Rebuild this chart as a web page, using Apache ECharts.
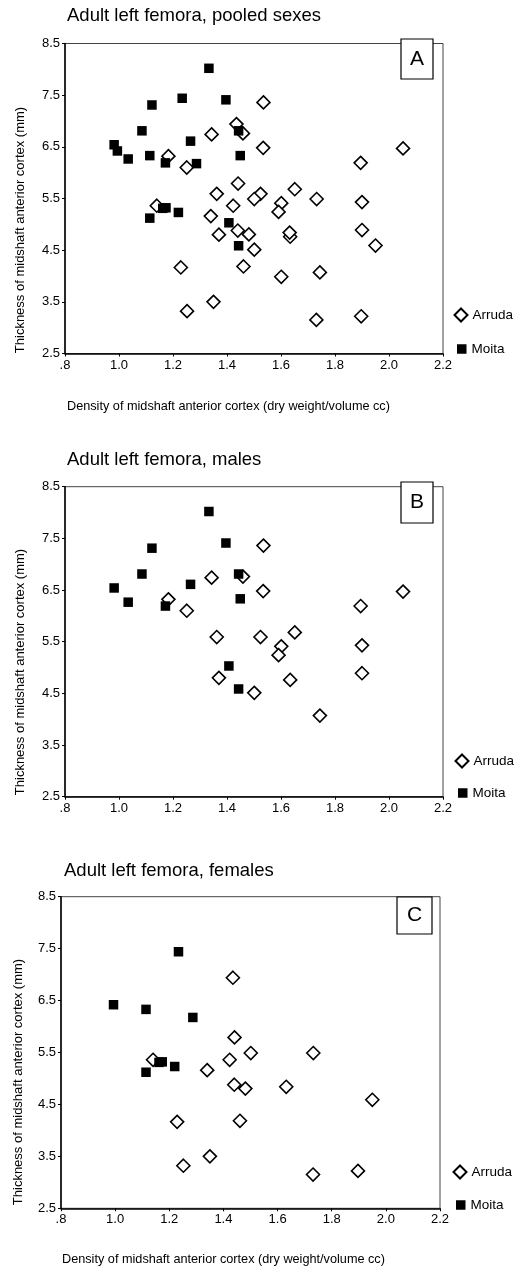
<!DOCTYPE html>
<html>
<head>
<meta charset="utf-8">
<script src="https://cdn.jsdelivr.net/npm/echarts@6/dist/echarts.min.js"></script>
<style>
html,body{margin:0;padding:0;background:#fff;}
#c{width:515px;height:1271px;}
</style>
</head>
<body>
<div id="c"></div>
<script>
// ---- data: [density, thickness] ----
var moitaMale = [[1.333,8.02],[1.396,7.41],[1.122,7.31],[1.085,6.81],[1.443,6.81],[1.265,6.61],[0.982,6.54],[1.034,6.265],[1.449,6.33],[1.172,6.19],[1.407,5.03],[1.443,4.585]];
var moitaFemale = [[1.234,7.44],[0.994,6.42],[1.114,6.33],[1.287,6.175],[1.162,5.31],[1.174,5.32],[1.220,5.23],[1.114,5.12]];
var arrudaMale = [[1.535,7.36],[1.343,6.74],[1.459,6.76],[1.534,6.48],[2.052,6.47],[1.183,6.32],[1.251,6.10],[1.895,6.19],[1.362,5.59],[1.524,5.59],[1.651,5.68],[1.601,5.41],[1.900,5.43],[1.591,5.24],[1.370,4.80],[1.634,4.76],[1.900,4.89],[1.501,4.51],[1.744,4.07]];
var arrudaFemale = [[1.435,6.94],[1.441,5.79],[1.501,5.49],[1.732,5.49],[1.140,5.36],[1.423,5.36],[1.340,5.16],[1.440,4.88],[1.481,4.805],[1.632,4.84],[1.950,4.59],[1.229,4.165],[1.461,4.185],[1.350,3.50],[1.252,3.32],[1.731,3.15],[1.897,3.22]];
var arrudaUnsexed = [[1.601,3.985]];
var panelTitles = ['Adult left femora, pooled sexes','Adult left femora, males','Adult left femora, females'];
var panelLetters = ['A','B','C'];
var xTicks = {min:0.8, max:2.2, interval:0.2};
var yTicks = {min:2.5, max:8.5, interval:1};
var xName = 'Density of midshaft anterior cortex (dry weight/volume cc)';
var yName = 'Thickness of midshaft anterior cortex (mm)';

var arrudaSets = [arrudaMale.concat(arrudaFemale, arrudaUnsexed), arrudaMale, arrudaFemale];
var moitaSets = [moitaMale.concat(moitaFemale), moitaMale, moitaFemale];

// ---- layout ----
var FONT = '"Liberation Sans", Arial, sans-serif';
var grids = [
  {left:65, top:43.5, width:378, height:310},
  {left:65, top:486.7, width:378, height:310},
  {left:61, top:896.7, width:379, height:311.6}
];
var titlePos = [{x:67,y:17},{x:67,y:461},{x:64,y:872}];
var boxPos = [{x:401,y:39,w:32,h:40},{x:401,y:482,w:32,h:41},{x:397,y:897,w:35,h:37}];
var yNamePos = [{x:20,y:230},{x:20,y:672},{x:18,y:1082}];
var xNamePos = [{x:67,y:406},null,{x:62,y:1259}];
var legPos = [{a:307.5,m:342,x:453.5},{a:753.5,m:786,x:454.5},{a:1164.5,m:1198,x:452.5}];

var option = {
  animation:false,
  backgroundColor:'#fff',
  textStyle:{fontFamily:FONT},
  grid:[], xAxis:[], yAxis:[], series:[], legend:[], graphic:[]
};

grids.forEach(function(g,i){
  option.grid.push({left:g.left, top:g.top, width:g.width, height:g.height,
    show:true, borderColor:'#444', borderWidth:1, backgroundColor:'transparent'});
  option.xAxis.push({type:'value', gridIndex:i, min:xTicks.min, max:xTicks.max, interval:xTicks.interval,
    axisLine:{onZero:false, lineStyle:{color:'#000', width:1.5}},
    axisTick:{show:true, length:3, lineStyle:{color:'#000'}},
    splitLine:{show:false},
    axisLabel:{color:'#000', fontSize:13, fontFamily:FONT, margin:5,
      formatter:function(v){ return Math.abs(v-0.8)<1e-9 ? '.8' : v.toFixed(1); }}
  });
  option.yAxis.push({type:'value', gridIndex:i, min:yTicks.min, max:yTicks.max, interval:yTicks.interval,
    axisLine:{onZero:false, lineStyle:{color:'#000', width:1.5}},
    axisTick:{show:true, length:3, lineStyle:{color:'#000'}},
    splitLine:{show:false},
    axisLabel:{color:'#000', fontSize:13, fontFamily:FONT, margin:5,
      formatter:function(v){ return v.toFixed(1); }}
  });
  option.series.push({type:'scatter', name:'Arruda', xAxisIndex:i, yAxisIndex:i, data:arrudaSets[i],
    symbol:'diamond', symbolSize:13, z:2,
    itemStyle:{color:'#fff', borderColor:'#000', borderWidth:1.6, opacity:1}});
  option.series.push({type:'scatter', name:'Moita', xAxisIndex:i, yAxisIndex:i, data:moitaSets[i],
    symbol:'rect', symbolSize:9.5, z:3,
    itemStyle:{color:'#000', borderColor:'#000', borderWidth:0, opacity:1}});

  var lp = legPos[i];
  option.legend.push({data:['Arruda'], orient:'vertical', left:lp.x, top:lp.a, padding:0,
    itemWidth:13, itemHeight:13, itemGap:0, selectedMode:false,
    textStyle:{color:'#000', fontSize:13.5, fontFamily:FONT}});
  option.legend.push({data:['Moita'], orient:'vertical', left:lp.x+3.5, top:lp.m, padding:0,
    itemWidth:9.5, itemHeight:9.5, itemGap:0, selectedMode:false,
    textStyle:{color:'#000', fontSize:13.5, fontFamily:FONT}});

  option.graphic.push({type:'text', left:titlePos[i].x, top:titlePos[i].y-11,
    style:{text:panelTitles[i], fill:'#000', font:'18.5px '+FONT}});
  var b = boxPos[i];
  option.graphic.push({type:'rect', shape:{x:b.x, y:b.y, width:b.w, height:b.h},
    style:{fill:'#fff', stroke:'#000', lineWidth:1.2}, z:10});
  option.graphic.push({type:'text', x:b.x+b.w/2, y:b.y+b.h/2, z:11,
    style:{text:panelLetters[i], fill:'#000', font:'21px '+FONT, align:'center', verticalAlign:'middle'}});
  option.graphic.push({type:'text', x:yNamePos[i].x, y:yNamePos[i].y, rotation:Math.PI/2,
    style:{text:yName, fill:'#000', font:'13px '+FONT, align:'center', verticalAlign:'middle'}});
  if (xNamePos[i]) {
    option.graphic.push({type:'text', x:xNamePos[i].x, y:xNamePos[i].y,
      style:{text:xName, fill:'#000', font:'12.7px '+FONT, align:'left', verticalAlign:'middle'}});
  }
});

var chart = echarts.init(document.getElementById('c'), null, {renderer:'canvas', width:515, height:1271});
chart.setOption(option);
</script>
</body>
</html>
